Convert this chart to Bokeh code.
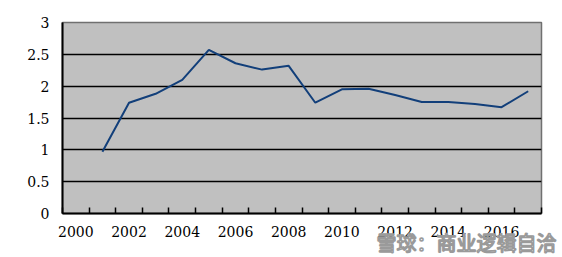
from bokeh.plotting import figure
from bokeh.models import Range1d, FixedTicker, NumeralTickFormatter, Title
from bokeh.embed import file_html
from bokeh.resources import INLINE

years = list(range(2001, 2018))
values = [0.97, 1.74, 1.88, 2.10, 2.57, 2.36, 2.26, 2.32, 1.74, 1.95, 1.96, 1.86, 1.75, 1.75, 1.72, 1.67, 1.92]
x_tick_labels = [2000, 2002, 2004, 2006, 2008, 2010, 2012, 2014, 2016]
y_ticks = [0, 0.5, 1, 1.5, 2, 2.5, 3]
watermark = "雪球：商业逻辑自洽"

p = figure(width=562, height=257, x_range=Range1d(1999.5, 2017.5), y_range=Range1d(0, 3),
           output_backend="svg", toolbar_location=None,
           min_border_left=62, min_border_right=21, min_border_top=22, min_border_bottom=44)

p.background_fill_color = "#c0c0c0"
p.border_fill_color = "white"
p.outline_line_color = "#707070"
p.outline_line_width = 1.5

p.line(years, values, line_color="#123f7a", line_width=2)

font = "DejaVu Serif"
# x axis
p.xaxis.ticker = FixedTicker(ticks=x_tick_labels, minor_ticks=[1999.5 + i for i in range(19)])
p.xaxis.major_tick_in = 0
p.xaxis.major_tick_out = 0
p.xaxis.minor_tick_in = 6
p.xaxis.minor_tick_out = 0
p.xaxis.minor_tick_line_color = "black"
p.xaxis.minor_tick_line_width = 1.5
p.xaxis.axis_line_color = "black"
p.xaxis.axis_line_width = 2
p.xaxis.major_label_standoff = 12
# y axis
p.yaxis.ticker = FixedTicker(ticks=y_ticks)
p.yaxis.formatter = NumeralTickFormatter(format="0.[0]")
p.yaxis.major_tick_in = 0
p.yaxis.major_tick_out = 0
p.yaxis.minor_tick_line_color = None
p.yaxis.axis_line_color = "black"
p.yaxis.axis_line_width = 2
p.yaxis.major_label_standoff = 13
for ax in (p.xaxis, p.yaxis):
    ax.major_label_text_font = font
    ax.major_label_text_font_size = "14px"
    ax.major_label_text_color = "black"

p.xgrid.visible = False
p.ygrid.ticker = FixedTicker(ticks=[0.5, 1, 1.5, 2, 2.5])
p.ygrid.grid_line_color = "black"
p.ygrid.grid_line_width = 1.5

# watermark, drawn as a below title that overlaps the axis area
p.add_layout(Title(text=watermark, align="left", offset=314, standoff=-28,
                   text_font="Noto Sans CJK SC", text_font_size="20px", text_font_style="normal",
                   text_color="white", text_outline_color="#9a9a9a"), "below")

open("out.html", "w").write(file_html(p, INLINE))
